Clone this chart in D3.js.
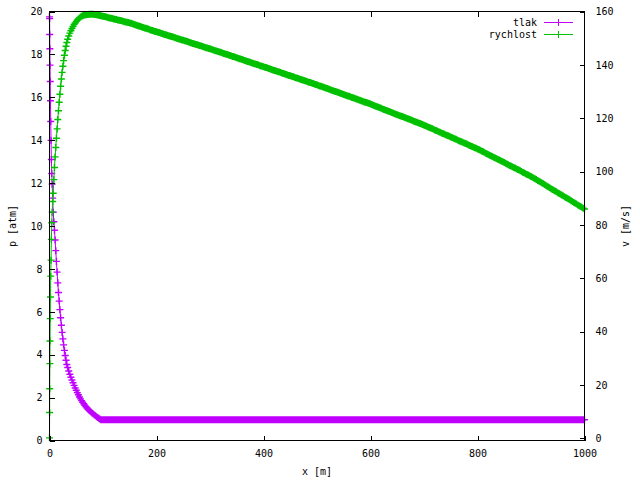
<!DOCTYPE html>
<html>
<head>
<meta charset="utf-8">
<script src="https://cdn.jsdelivr.net/npm/d3@7"></script>
<style>
html,body{margin:0;padding:0;background:#fff;}
svg{display:block;}
text{font-family:"DejaVu Sans Mono",monospace;font-size:10px;fill:#000;}
</style>
</head>
<body>
<svg id="chart" width="640" height="480"></svg>
<script>
// distance along pipe [m]
const distance = [
0,0.2,0.4,0.7,1.0,1.4,1.8,2.3,2.9,3.5,4.2,5.0,5.9,6.9,
8.1,9.3,10.5,11.7,12.9,14.2,15.5,16.8,18.1,19.4,20.8,22.2,23.6,25.0,26.4,27.9,29.4,30.9,32.4,
34,36,38,40,42,44,46,48,50,52,54,56,58,60,62,64,66,68,70,72,74,76,78,80,82,84,86,88,90,92,94,96,98,
100,102.5,105,107.5,110,112.5,115,117.5,120,122.5,125,127.5,130,132.5,135,137.5,140,142.5,145,147.5,
150,152.5,155,157.5,160,162.5,165,167.5,170,172.5,175,177.5,180,182.5,185,187.5,190,192.5,195,197.5,
200,202.5,205,207.5,210,212.5,215,217.5,220,222.5,225,227.5,230,232.5,235,237.5,240,242.5,245,247.5,
250,252.5,255,257.5,260,262.5,265,267.5,270,272.5,275,277.5,280,282.5,285,287.5,290,292.5,295,297.5,
300,302.5,305,307.5,310,312.5,315,317.5,320,322.5,325,327.5,330,332.5,335,337.5,340,342.5,345,347.5,
350,352.5,355,357.5,360,362.5,365,367.5,370,372.5,375,377.5,380,382.5,385,387.5,390,392.5,395,397.5,
400,402.5,405,407.5,410,412.5,415,417.5,420,422.5,425,427.5,430,432.5,435,437.5,440,442.5,445,447.5,
450,452.5,455,457.5,460,462.5,465,467.5,470,472.5,475,477.5,480,482.5,485,487.5,490,492.5,495,497.5,
500,502.5,505,507.5,510,512.5,515,517.5,520,522.5,525,527.5,530,532.5,535,537.5,540,542.5,545,547.5,
550,552.5,555,557.5,560,562.5,565,567.5,570,572.5,575,577.5,580,582.5,585,587.5,590,592.5,595,597.5,
600,602.5,605,607.5,610,612.5,615,617.5,620,622.5,625,627.5,630,632.5,635,637.5,640,642.5,645,647.5,
650,652.5,655,657.5,660,662.5,665,667.5,670,672.5,675,677.5,680,682.5,685,687.5,690,692.5,695,697.5,
700,702.5,705,707.5,710,712.5,715,717.5,720,722.5,725,727.5,730,732.5,735,737.5,740,742.5,745,747.5,
750,752.5,755,757.5,760,762.5,765,767.5,770,772.5,775,777.5,780,782.5,785,787.5,790,792.5,795,797.5,
800,802.5,805,807.5,810,812.5,815,817.5,820,822.5,825,827.5,830,832.5,835,837.5,840,842.5,845,847.5,
850,852.5,855,857.5,860,862.5,865,867.5,870,872.5,875,877.5,880,882.5,885,887.5,890,892.5,895,897.5,
900,902.5,905,907.5,910,912.5,915,917.5,920,922.5,925,927.5,930,932.5,935,937.5,940,942.5,945,947.5,
950,952.5,955,957.5,960,962.5,965,967.5,970,972.5,975,977.5,980,982.5,985,987.5,990,992.5,995,997.5,
1000
];
// pressure "tlak" [atm]
const tlak = [
19.75,19.67,18.93,18.26,17.5,16.74,15.84,14.87,13.99,13.1,12.45,11.95,11.3,10.64,
10.2,9.8,9.35,8.85,8.35,7.85,7.35,6.9,6.5,6.1,5.72,5.37,5.04,4.74,4.46,4.2,3.96,3.74,3.54,
3.4,3.24,3.09,2.95,2.82,2.69,2.57,2.45,2.34,2.23,2.13,2.03,1.94,1.86,1.78,1.71,1.64,1.575,1.515,1.46,1.41,1.36,1.315,1.27,1.23,1.19,1.15,1.11,1.07,1.035,1.0,0.97,0.97,
0.97,0.97,0.97,0.97,0.97,0.97,0.97,0.97,0.97,0.97,0.97,0.97,0.97,0.97,0.97,0.97,0.97,0.97,0.97,0.97,
0.97,0.97,0.97,0.97,0.97,0.97,0.97,0.97,0.97,0.97,0.97,0.97,0.97,0.97,0.97,0.97,0.97,0.97,0.97,0.97,
0.97,0.97,0.97,0.97,0.97,0.97,0.97,0.97,0.97,0.97,0.97,0.97,0.97,0.97,0.97,0.97,0.97,0.97,0.97,0.97,
0.97,0.97,0.97,0.97,0.97,0.97,0.97,0.97,0.97,0.97,0.97,0.97,0.97,0.97,0.97,0.97,0.97,0.97,0.97,0.97,
0.97,0.97,0.97,0.97,0.97,0.97,0.97,0.97,0.97,0.97,0.97,0.97,0.97,0.97,0.97,0.97,0.97,0.97,0.97,0.97,
0.97,0.97,0.97,0.97,0.97,0.97,0.97,0.97,0.97,0.97,0.97,0.97,0.97,0.97,0.97,0.97,0.97,0.97,0.97,0.97,
0.97,0.97,0.97,0.97,0.97,0.97,0.97,0.97,0.97,0.97,0.97,0.97,0.97,0.97,0.97,0.97,0.97,0.97,0.97,0.97,
0.97,0.97,0.97,0.97,0.97,0.97,0.97,0.97,0.97,0.97,0.97,0.97,0.97,0.97,0.97,0.97,0.97,0.97,0.97,0.97,
0.97,0.97,0.97,0.97,0.97,0.97,0.97,0.97,0.97,0.97,0.97,0.97,0.97,0.97,0.97,0.97,0.97,0.97,0.97,0.97,
0.97,0.97,0.97,0.97,0.97,0.97,0.97,0.97,0.97,0.97,0.97,0.97,0.97,0.97,0.97,0.97,0.97,0.97,0.97,0.97,
0.97,0.97,0.97,0.97,0.97,0.97,0.97,0.97,0.97,0.97,0.97,0.97,0.97,0.97,0.97,0.97,0.97,0.97,0.97,0.97,
0.97,0.97,0.97,0.97,0.97,0.97,0.97,0.97,0.97,0.97,0.97,0.97,0.97,0.97,0.97,0.97,0.97,0.97,0.97,0.97,
0.97,0.97,0.97,0.97,0.97,0.97,0.97,0.97,0.97,0.97,0.97,0.97,0.97,0.97,0.97,0.97,0.97,0.97,0.97,0.97,
0.97,0.97,0.97,0.97,0.97,0.97,0.97,0.97,0.97,0.97,0.97,0.97,0.97,0.97,0.97,0.97,0.97,0.97,0.97,0.97,
0.97,0.97,0.97,0.97,0.97,0.97,0.97,0.97,0.97,0.97,0.97,0.97,0.97,0.97,0.97,0.97,0.97,0.97,0.97,0.97,
0.97,0.97,0.97,0.97,0.97,0.97,0.97,0.97,0.97,0.97,0.97,0.97,0.97,0.97,0.97,0.97,0.97,0.97,0.97,0.97,
0.97,0.97,0.97,0.97,0.97,0.97,0.97,0.97,0.97,0.97,0.97,0.97,0.97,0.97,0.97,0.97,0.97,0.97,0.97,0.97,
0.97,0.97,0.97,0.97,0.97,0.97,0.97,0.97,0.97,0.97,0.97,0.97,0.97,0.97,0.97,0.97,0.97,0.97,0.97,0.97,
0.97
];
// velocity "rychlost" [m/s]
const rychlost = [
0.2,9.7,18.6,28.0,36.5,44.9,53.0,60.8,66.8,74.6,80.8,84.8,88.8,91.9,
97,101.5,105.5,109,112.5,116,119.5,122.8,126,129,132,134.7,137.2,139.5,141.6,143.6,145.4,147.0,148.4,
149.6,150.8,151.9,152.8,153.6,154.4,155.1,155.7,156.3,156.8,157.2,157.6,157.9,158.2,158.4,158.6,158.7,158.8,158.9,158.9,159.0,159.0,159.0,159.0,158.95,158.9,158.85,158.8,158.7,158.6,158.5,158.4,158.3,
158.2,158.1,158.0,157.85,157.7,157.6,157.5,157.35,157.2,157.1,157.0,156.85,156.7,156.6,156.5,156.35,156.2,156.1,156.0,155.85,
155.7,155.55,155.4,155.2,155.0,154.85,154.7,154.55,154.4,154.2,154.0,153.85,153.7,153.55,153.4,153.2,153.0,152.85,152.7,152.55,
152.4,152.25,152.1,151.95,151.8,151.6,151.4,151.25,151.1,150.95,150.8,150.65,150.5,150.35,150.2,150.0,149.8,149.65,149.5,149.35,
149.2,149.05,148.9,148.75,148.6,148.4,148.2,148.05,147.9,147.75,147.6,147.45,147.3,147.15,147.0,146.8,146.6,146.45,146.3,146.15,
146.0,145.85,145.7,145.5,145.3,145.15,145.0,144.85,144.7,144.5,144.3,144.15,144.0,143.85,143.7,143.5,143.3,143.15,143.0,142.85,
142.7,142.5,142.3,142.15,142.0,141.8,141.6,141.45,141.3,141.15,141.0,140.8,140.6,140.45,140.3,140.15,140.0,139.8,139.6,139.45,
139.3,139.15,139.0,138.8,138.6,138.45,138.3,138.1,137.9,137.75,137.6,137.45,137.3,137.1,136.9,136.75,136.6,136.4,136.2,136.05,
135.9,135.75,135.6,135.4,135.2,135.05,134.9,134.7,134.5,134.35,134.2,134.05,133.9,133.7,133.5,133.35,133.2,133.0,132.8,132.65,
132.5,132.3,132.1,131.95,131.8,131.6,131.4,131.25,131.1,130.9,130.7,130.5,130.3,130.15,130.0,129.8,129.6,129.45,129.3,129.1,
128.9,128.7,128.5,128.35,128.2,128.0,127.8,127.65,127.5,127.3,127.1,126.9,126.7,126.55,126.4,126.2,126.0,125.85,125.7,125.5,
125.3,125.1,124.9,124.7,124.5,124.3,124.1,123.9,123.7,123.5,123.3,123.1,122.9,122.7,122.5,122.3,122.1,121.9,121.7,121.5,
121.3,121.1,120.9,120.75,120.6,120.4,120.2,120.0,119.8,119.6,119.4,119.2,119.0,118.8,118.6,118.4,118.2,118.0,117.8,117.6,
117.4,117.2,117.0,116.75,116.5,116.3,116.1,115.85,115.6,115.4,115.2,114.95,114.7,114.5,114.3,114.05,113.8,113.6,113.4,113.2,
113.0,112.75,112.5,112.3,112.1,111.85,111.6,111.4,111.2,110.95,110.7,110.5,110.3,110.05,109.8,109.6,109.4,109.15,108.9,108.7,
108.5,108.25,108.0,107.75,107.5,107.2,106.9,106.65,106.4,106.15,105.9,105.65,105.4,105.15,104.9,104.65,104.4,104.15,103.9,103.65,
103.4,103.1,102.8,102.55,102.3,102.05,101.8,101.55,101.3,101.05,100.8,100.55,100.3,100.0,99.7,99.45,99.2,98.95,98.7,98.45,
98.2,97.9,97.6,97.3,97.0,96.7,96.4,96.1,95.8,95.5,95.2,94.85,94.5,94.2,93.9,93.6,93.3,93.0,92.7,92.4,
92.1,91.8,91.5,91.2,90.9,90.6,90.3,90.0,89.7,89.4,89.1,88.75,88.4,88.1,87.8,87.5,87.2,86.9,86.6,86.3,
86.0
];
const xTicks = [0,200,400,600,800,1000];
const pTicks = [0,2,4,6,8,10,12,14,16,18,20];
const vTicks = [0,20,40,60,80,100,120,140,160];
const seriesNames = ["tlak","rychlost"];
const seriesColors = ["#c000ff","#00c000"];

const svg = d3.select("#chart");
const L = 49.5, R = 584.5, T = 11.5, B = 440.5;
const x = d3.scaleLinear().domain([0,1000]).range([L,R]);
const yP = d3.scaleLinear().domain([0,20]).range([B,T]);
const yV = d3.scaleLinear().domain([-0.8,160]).range([B,T]);

const plus = (cx,cy,s) => `M${cx-s},${cy}H${cx+s}M${cx},${cy-s}V${cy+s}`;

function drawSeries(vals, yScale, color){
  const g = svg.append("g");
  const line = d3.line().x((d,i)=>x(distance[i])).y(d=>yScale(d));
  g.append("path").datum(vals).attr("d",line).attr("fill","none")
    .attr("stroke",color).attr("stroke-width",1);
  g.append("path").attr("d", vals.map((d,i)=>plus(x(distance[i]), yScale(d), 3.5)).join(""))
    .attr("fill","none").attr("stroke",color).attr("stroke-width",1.4);
}
drawSeries(tlak, yP, seriesColors[0]);
drawSeries(rychlost, yV, seriesColors[1]);

// axes
const ax = (g)=>{g.select(".domain").remove(); g.selectAll("line").attr("stroke","#000").attr("shape-rendering","crispEdges"); g.selectAll("text").attr("font-family","DejaVu Sans Mono").attr("font-size",10).attr("fill","#000");};
svg.append("g").attr("transform",`translate(0,${B})`)
  .call(d3.axisBottom(x).tickValues(xTicks).tickSize(-5).tickPadding(9).tickFormat(d3.format("d"))).call(ax);
svg.append("g").attr("transform",`translate(0,${T})`)
  .call(d3.axisTop(x).tickValues(xTicks.slice(1,-1)).tickSize(-5).tickFormat("")).call(ax);
svg.append("g").attr("transform",`translate(${L},0)`)
  .call(d3.axisLeft(yP).tickValues(pTicks).tickSize(-5).tickPadding(7).tickFormat(d3.format("d"))).call(ax);
svg.append("g").attr("transform",`translate(${R},0)`)
  .call(d3.axisRight(yV).tickValues(vTicks).tickSize(-5).tickPadding(11).tickFormat(d3.format("d"))).call(ax);

svg.append("rect").attr("x",L).attr("y",T).attr("width",R-L).attr("height",B-T)
  .attr("fill","none").attr("stroke","#000").attr("stroke-width",1).attr("shape-rendering","crispEdges");

// axis titles
svg.append("text").attr("transform","translate(16,226) rotate(-90)").attr("text-anchor","middle").text("p [atm]");
svg.append("text").attr("transform","translate(629,226) rotate(-90)").attr("text-anchor","middle").text("v [m/s]");
svg.append("text").attr("x",317).attr("y",475).attr("text-anchor","middle").text("x [m]");

// legend
seriesNames.forEach((n,i)=>{
  const yy = 22.5 + i*12;
  svg.append("text").attr("x",537).attr("y",yy+3.5).attr("text-anchor","end").text(n);
  svg.append("line").attr("x1",544).attr("x2",573).attr("y1",yy).attr("y2",yy)
    .attr("stroke",seriesColors[i]).attr("shape-rendering","crispEdges");
  svg.append("path").attr("d",plus(558.5,yy,3.5)).attr("stroke",seriesColors[i]).attr("fill","none").attr("shape-rendering","crispEdges");
});
</script>
</body>
</html>
